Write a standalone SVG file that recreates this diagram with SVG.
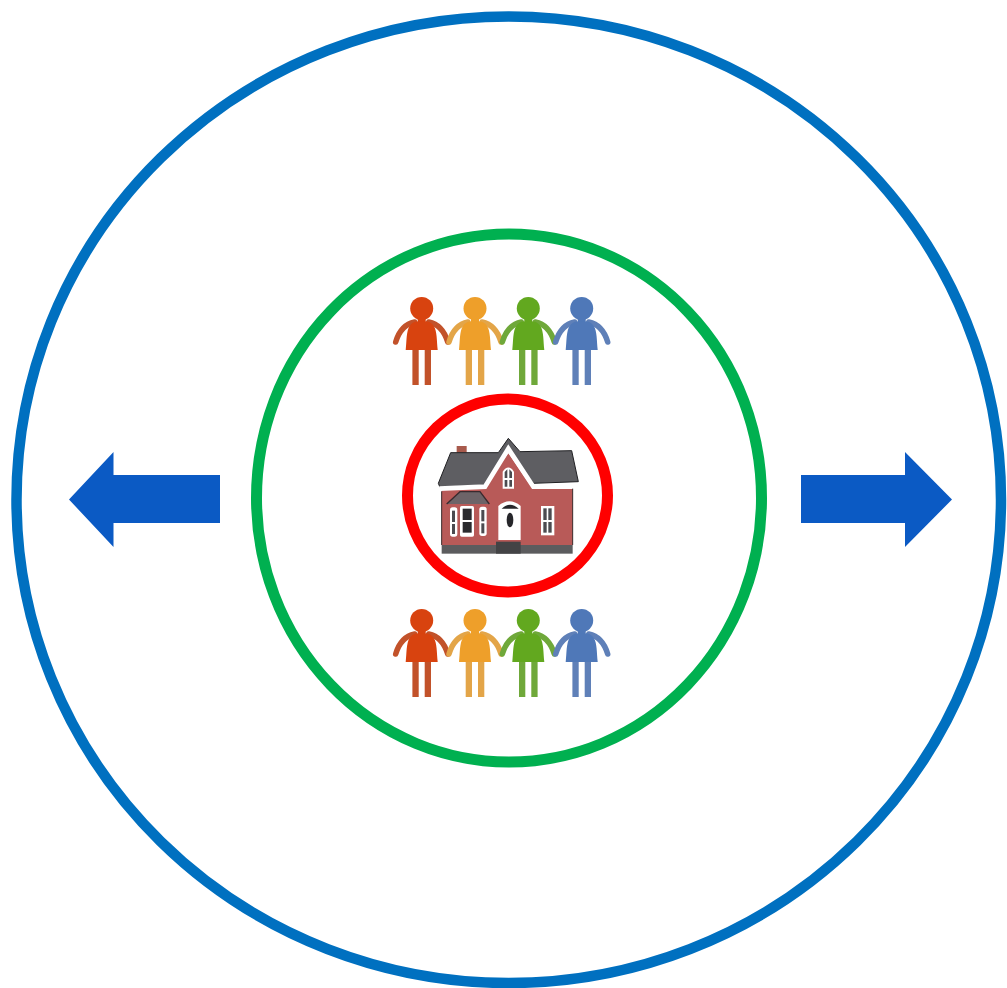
<svg xmlns="http://www.w3.org/2000/svg" width="1007" height="988" viewBox="0 0 1007 988">
<style>
.ring{fill:none}
.arrow{fill:#0b5ac4}
.arm{fill:none;stroke-width:5.500;stroke-linecap:round;stroke-linejoin:round}
.win{fill:#fff}
.pane{fill:#2a2a2e}
.soft{fill:#4b4b50}
</style>
<defs>
<g id="person">
<path class="arm" stroke="currentColor" d="M-26 45 C-23 35 -17 27 -7 25 M26 45 C23 35 17 27 7 25"/>
<rect x="-9.300" y="50" width="6.300" height="38" fill="currentColor"/>
<rect x="3" y="50" width="6.300" height="38" fill="currentColor"/>
<circle cx="0" cy="11.500" r="11.500"/>
<rect x="-4" y="20" width="8" height="6"/>
<path d="M-16 53 C-15 44 -15.500 34 -12 29 Q-9 24.500 -5 24.500 L5 24.500 Q9 24.500 12 29 C15.500 34 15 44 16 53 Z"/>
</g>
<g id="people">
<use href="#person" x="421.700" fill="#d8430f" color="#c2522a"/>
<use href="#person" x="475" fill="#ee9f2a" color="#e3a548"/>
<use href="#person" x="528.300" fill="#62a81f" color="#6fa83a"/>
<use href="#person" x="581.700" fill="#4f78b8" color="#5f80b8"/>
</g>
</defs>
<g id="outer-ring"><ellipse class="ring" cx="508.750" cy="499.750" rx="492.250" ry="483.250" stroke="#0070c0" stroke-width="10.500"/></g>
<g id="middle-ring"><ellipse class="ring" cx="509" cy="498" rx="252.500" ry="264" stroke="#00b050" stroke-width="11"/></g>
<g id="inner-ring"><ellipse class="ring" cx="507.500" cy="495.500" rx="100" ry="96.500" stroke="#ff0000" stroke-width="11"/></g>
<g id="people-top"><use href="#people" y="297"/></g>
<g id="people-bottom"><use href="#people" y="609"/></g>
<g id="house" transform="translate(430 430) scale(.33333)">
<rect x="80" y="48" width="30" height="20" fill="#a85a4c"/>
<path d="M25 160 L62 68 L205 68 L235 25 L270 65 L425 62 L445 155 L310 160 L235 60 L165 165 L30 172 Z" fill="#5e5e62" stroke="#1f1f22" stroke-width="3" stroke-linejoin="round"/>
<path d="M35 180 L160 172 L235 70 L305 172 L428 172 L428 345 L35 345 Z" fill="#b85a58"/>
<path d="M28 176 L165 170 L235 56 L310 170 L430 170" fill="none" stroke="#fff" stroke-width="14"/>
<path d="M35 184 V345 M428 176 V345" fill="none" stroke="#3a2a2a" stroke-width="3"/>
<path d="M50 222 L90 185 L150 185 L178 222 Z" fill="#6d6468"/>
<path d="M50 222 L90 185 L150 185 L178 222" fill="none" stroke="#3a2a2e" stroke-width="4"/>
<rect x="35" y="345" width="393" height="26" fill="#5c5c5e"/>
<rect x="198" y="335" width="74" height="36" fill="#434345"/>
<path d="M205 330 V228 Q238 200 272 228 V330 Z" fill="#fff"/>
<path d="M215 236 Q240 212 266 236 Z" fill="#26262a"/>
<ellipse cx="240" cy="270" rx="10" ry="22" fill="#26262a"/>
<rect class="win" x="60" y="232" width="22" height="88" rx="8"/>
<rect class="soft" x="66" y="242" width="9" height="34"/>
<rect class="soft" x="66" y="282" width="9" height="30"/>
<rect class="win" x="90" y="228" width="42" height="92" rx="5"/>
<rect class="pane" x="98" y="236" width="27" height="34"/>
<rect class="pane" x="98" y="276" width="27" height="32"/>
<rect class="win" x="148" y="230" width="22" height="88" rx="8"/>
<rect class="soft" x="154" y="240" width="9" height="34"/>
<rect class="soft" x="154" y="280" width="9" height="30"/>
<path d="M218 176 V125 Q235 100 252 125 V176 Z" fill="#fff"/>
<path class="soft" d="M224 144 V126 L232 118 V144 Z M238 118 L246 126 V144 H238 Z M224 150 H232 V170 H224 Z M238 150 H246 V170 H238 Z"/>
<rect class="win" x="333" y="228" width="40" height="88"/>
<rect class="soft" x="340" y="235" width="10" height="35"/>
<rect class="soft" x="355" y="235" width="10" height="35"/>
<rect class="soft" x="340" y="276" width="10" height="32"/>
<rect class="soft" x="355" y="276" width="10" height="32"/>
</g>
<g id="arrow-left"><polygon class="arrow" points="69,499.500 113.500,452 113.500,475 220,475 220,523 113.500,523 113.500,547"/></g>
<g id="arrow-right"><polygon class="arrow" points="952,499.500 905,452 905,475 801,475 801,523 905,523 905,547"/></g>
</svg>
